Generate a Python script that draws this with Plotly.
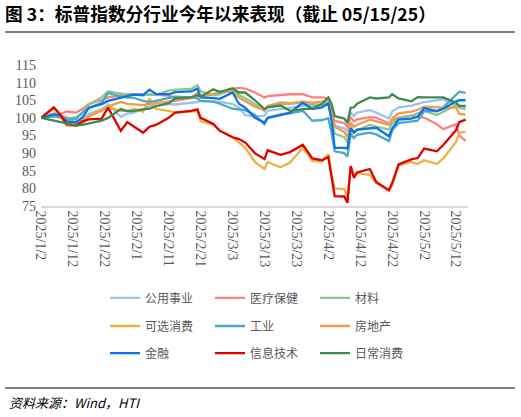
import plotly.graph_objects as go

# trading dates sampled from the chart
dates = ['2025-01-02', '2025-01-06', '2025-01-08', '2025-01-10', '2025-01-13', '2025-01-15',
         '2025-01-17', '2025-01-21', '2025-01-23', '2025-01-27', '2025-01-29', '2025-01-31',
         '2025-02-03', '2025-02-05', '2025-02-07', '2025-02-11', '2025-02-13', '2025-02-18',
         '2025-02-20', '2025-02-21', '2025-02-25', '2025-02-27',
         '2025-03-03', '2025-03-05', '2025-03-07', '2025-03-10', '2025-03-13', '2025-03-14',
         '2025-03-18', '2025-03-21', '2025-03-25', '2025-03-28', '2025-03-31',
         '2025-04-02', '2025-04-03', '2025-04-04', '2025-04-07', '2025-04-08', '2025-04-09',
         '2025-04-10', '2025-04-11', '2025-04-15', '2025-04-17', '2025-04-21', '2025-04-22',
         '2025-04-24', '2025-04-28', '2025-04-30',
         '2025-05-02', '2025-05-06', '2025-05-08', '2025-05-12', '2025-05-13', '2025-05-15']

utilities = [100, 100.4, 100.1, 99.4, 99.0, 99.6, 101.2, 102.5, 103.8, 100.3, 101.2, 101.5,
             102.5, 103.3, 103.5, 103.9, 103.8, 104.2, 104.5, 104.8, 104.7, 104.5,
             104.0, 102.9, 100.8, 100.4, 100.6, 102.0, 102.5, 102.8, 103.4, 103.9, 103.6,
             103.9, 100.0, 97.8, 97.0, 96.3, 101.5, 100.5, 101.5, 102.2, 101.5, 99.8, 101.8,
             103.0, 103.5, 104.0,
             104.5, 105.0, 105.3, 103.5, 103.0, 102.9]
health = [100, 101.2, 101.0, 101.8, 101.5, 102.5, 104.0, 105.0, 105.8, 106.5, 106.7, 106.7,
          106.7, 106.6, 106.5, 106.3, 105.8, 105.8, 106.0, 106.2, 106.6, 107.0,
          108.2, 108.5, 108.3, 107.2, 105.8, 106.2, 106.6, 106.7, 106.7, 105.8, 105.8,
          105.5, 101.0, 99.2, 98.5, 97.5, 100.2, 99.0, 99.6, 100.2, 100.1, 98.4, 99.2,
          100.1, 100.6, 100.4,
          100.1, 98.2, 96.8, 98.2, 95.0, 93.5]
materials = [100, 100.5, 100.1, 99.8, 100.2, 101.5, 103.8, 105.8, 107.5, 106.8, 106.6, 106.6,
             106.4, 106.7, 106.5, 107.7, 108.0, 108.2, 109.3, 107.5, 106.4, 106.7,
             108.0, 106.5, 105.6, 103.9, 102.0, 103.4, 103.9, 104.0, 104.3, 103.4, 103.8,
             104.3, 99.5, 95.5, 94.5, 93.0, 97.5, 96.0, 96.5, 98.0, 97.5, 96.7, 98.5,
             99.8, 100.6, 101.3,
             102.0, 100.8, 101.8, 103.6, 102.8, 102.5]
discretionary = [100, 102.5, 100.5, 100.3, 98.5, 99.0, 100.5, 102.3, 103.0, 102.0, 102.0, 102.5,
                 101.8, 105.5, 102.5, 102.0, 101.5, 101.8, 102.0, 99.0, 98.0, 96.5,
                 94.5, 93.0, 91.5, 87.5, 85.5, 87.5, 86.0, 87.3, 91.5, 87.8, 87.6,
                 89.7, 84.0, 80.0, 79.8, 77.4, 86.3, 84.0, 84.3, 83.8, 81.5, 79.2, 81.0,
                 86.5, 87.5, 86.9,
                 88.0, 86.9, 88.5, 93.2, 95.8, 96.1]
industrials = [100, 100.5, 100.2, 99.8, 99.7, 101.5, 102.8, 104.3, 107.1, 106.0, 105.8, 105.7,
               104.8, 104.5, 104.8, 105.6, 106.0, 105.8, 105.5, 104.8, 104.6, 104.0,
               102.6, 102.4, 102.2, 100.8, 98.2, 100.0, 101.0, 101.3, 102.0, 99.2, 99.4,
               99.9, 96.0, 90.5, 90.0, 89.0, 95.5, 94.3, 95.2, 95.8, 95.3, 93.4, 96.5,
               98.5, 98.9, 99.2,
               101.9, 101.9, 103.0, 106.6, 107.4, 107.1]
real_estate = [100, 101.2, 100.5, 97.8, 97.8, 98.3, 100.5, 102.0, 103.2, 104.5, 104.0, 103.8,
               103.6, 104.0, 104.2, 104.4, 104.8, 105.6, 107.0, 106.3, 106.8, 107.5,
               107.3, 105.8, 104.8, 103.2, 102.2, 103.3, 104.4, 104.2, 104.6, 104.3, 104.6,
               105.0, 103.5, 97.5, 96.0, 94.5, 98.6, 97.5, 98.0, 99.5, 99.0, 98.0, 99.8,
               101.3, 101.8, 102.3,
               103.2, 103.0, 102.9, 103.0, 101.1, 100.9]
financials = [100, 101.0, 100.7, 99.0, 98.7, 100.1, 102.9, 103.9, 104.8, 105.8, 106.3, 106.6,
              106.5, 108.0, 106.8, 106.7, 107.3, 107.5, 108.3, 105.8, 105.6, 105.4,
              107.2, 104.0, 102.9, 100.0, 98.7, 100.0, 100.8, 101.5, 104.3, 102.5, 103.0,
              104.1, 99.5, 91.5, 91.5, 91.3, 97.0, 95.8, 96.7, 97.0, 97.2, 94.8, 97.0,
              99.5, 99.8, 100.3,
              102.8, 101.9, 102.6, 104.7, 105.0, 105.0]
info_tech = [100, 103.0, 101.0, 98.3, 97.8, 99.0, 99.6, 99.8, 102.9, 96.3, 98.8, 97.5,
             95.8, 97.5, 98.0, 100.0, 101.5, 102.0, 102.4, 100.0, 98.3, 96.3,
             94.5, 94.0, 93.0, 90.0, 88.3, 90.8, 89.5, 90.3, 92.4, 88.5, 88.0,
             88.9, 83.0, 77.8, 77.7, 75.9, 86.3, 83.0, 84.5, 85.5, 81.8, 79.5, 81.5,
             86.8, 88.2, 88.6,
             91.3, 90.5, 92.3, 96.5, 98.8, 99.5]
staples = [100, 99.3, 98.9, 98.5, 97.9, 98.0, 98.4, 99.2, 100.0, 102.5, 101.9, 102.0,
           102.4, 102.6, 103.3, 104.2, 105.5, 105.8, 106.5, 106.0, 108.1, 107.3,
           108.4, 107.2, 107.2, 105.0, 102.5, 103.0, 103.5, 102.0, 102.5, 102.6, 104.0,
           105.8, 104.0, 100.5, 99.8, 98.6, 102.9, 103.0, 104.0, 105.8, 105.5, 105.8, 106.7,
           105.5, 104.7, 105.9,
           105.8, 105.8, 105.8, 104.3, 103.4, 103.4]

y_ticks = [75, 80, 85, 90, 95, 100, 105, 110, 115]

# name, values, colour, legend row
series = [
    ('公用事业', utilities, '#9DC3E6', 'legend'),
    ('医疗保健', health, '#FF8080', 'legend'),
    ('材料', materials, '#8CC68C', 'legend'),
    ('可选消费', discretionary, '#EEB040', 'legend2'),
    ('工业', industrials, '#4BA9C3', 'legend2'),
    ('房地产', real_estate, '#F59A4A', 'legend2'),
    ('金融', financials, '#0A74E8', 'legend3'),
    ('信息技术', info_tech, '#E00000', 'legend3'),
    ('日常消费', staples, '#3F8A4C', 'legend3'),
]

fig = go.Figure()
for name, vals, color, leg in series:
    fig.add_trace(go.Scatter(x=dates, y=vals, name=name, mode='lines',
                             line=dict(color=color, width=2.3), legend=leg))

grey = '#595959'
leg_font = dict(family='Noto Sans CJK SC', size=12, color=grey)
leg_common = dict(orientation='h', xanchor='left', yanchor='middle', x=(105 - 41) / 427,
                  entrywidth=60, entrywidthmode='pixels', font=leg_font,
                  bgcolor='rgba(0,0,0,0)', tracegroupgap=0)

fig.update_layout(
    width=521, height=417,
    margin=dict(l=41, r=53, t=65, b=211),
    paper_bgcolor='white', plot_bgcolor='white',
    title=dict(text='<b>图 3：标普指数分行业今年以来表现（截止 05/15/25）</b>',
               font=dict(family='Noto Sans CJK SC', size=17.7, color='black'),
               x=5 / 521, xref='container', xanchor='left',
               y=1 - 15 / 417, yref='container', yanchor='middle'),
    legend=dict(leg_common, y=-0.652),
    legend2=dict(leg_common, y=-0.851),
    legend3=dict(leg_common, y=-1.043),
    xaxis=dict(type='date', range=['2025-01-02', '2025-05-15 18:00'],
               tick0='2025-01-02', dtick=10 * 86400000, tickformat='%Y/%-m/%-d',
               tickangle=90, ticks='', showgrid=False, zeroline=False,
               showline=True, linecolor='#D9D9D9', linewidth=1.5,
               tickfont=dict(family='Liberation Serif', size=14, color=grey)),
    yaxis=dict(range=[75, 115], tickvals=y_ticks, ticks='', showgrid=False,
               zeroline=False, showline=False, ticklabelstandoff=4,
               tickfont=dict(family='Liberation Serif', size=14, color=grey)),
    shapes=[
        dict(type='line', xref='paper', yref='paper', x0=(5 - 41) / 427, x1=(515 - 41) / 427,
             y0=(206 - 32) / 141, y1=(206 - 32) / 141, line=dict(color='#7F7F7F', width=2)),
        dict(type='line', xref='paper', yref='paper', x0=(5 - 41) / 427, x1=(515 - 41) / 427,
             y0=(206 - 388) / 141, y1=(206 - 388) / 141, line=dict(color='#7F7F7F', width=2)),
    ],
    annotations=[
        dict(text='<i>资料来源：Wind，HTI</i>', xref='paper', yref='paper',
             x=(7 - 41) / 427, y=(206 - 403) / 141, xanchor='left', yanchor='middle',
             showarrow=False, font=dict(family='Noto Sans CJK SC', size=13, color='black')),
    ],
)

# drop the page's default body margin so the figure sits at the window's corner
fig.write_html('out.html', config={'displayModeBar': False},
               post_script="document.body.style.margin='0';")
